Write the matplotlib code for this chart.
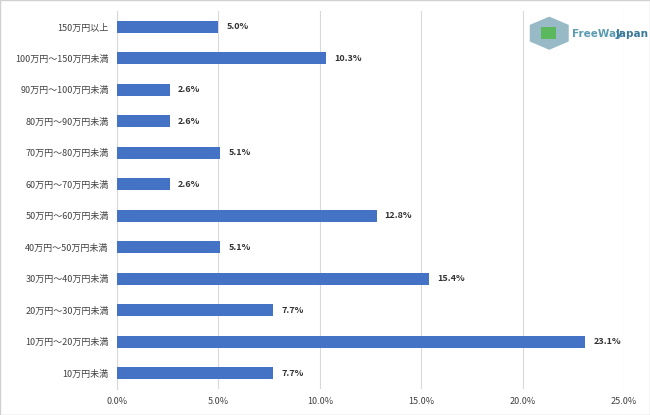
import matplotlib
matplotlib.use("Agg")
import matplotlib.pyplot as plt
from matplotlib.patches import Rectangle, Polygon

categories = ["10万円未満","10万円～20万円未満","20万円～30万円未満","30万円～40万円未満",
              "40万円～50万円未満","50万円～60万円未満","60万円～70万円未満","70万円～80万円未満",
              "80万円～90万円未満","90万円～100万円未満","100万円～150万円未満","150万円以上"]
values = [7.7,23.1,7.7,15.4,5.1,12.8,2.6,5.1,2.6,2.6,10.3,5.0]
xticks = [0,5,10,15,20,25]

plt.rcParams["font.family"] = ["Noto Sans CJK JP"]
fig = plt.figure(figsize=(6.5,4.15), dpi=100)
fig.patches.append(Rectangle((0,0),1,1,transform=fig.transFigure,fill=False,edgecolor="#d0d0d0",lw=1))
ax = fig.add_axes([0.18,0.063,0.78,0.91])
y = range(len(categories))
ax.barh(y, values, height=0.38, color="#4472c4", zorder=3)
for i,v in zip(y,values):
    ax.text(v+0.4, i, f"{v:.1f}%", va="center", ha="left", fontsize=6.5, fontweight="bold", color="#333333")
ax.set_yticks(list(y))
ax.set_yticklabels(categories, fontsize=6.5, color="#404040")
ax.set_xticks(xticks)
ax.set_xticklabels([f"{t:.1f}%" for t in xticks], fontsize=6.5, color="#404040")
ax.set_xlim(0,25)
ax.set_ylim(-0.5,11.5)
ax.grid(axis="x", color="#d9d9d9", lw=0.8, zorder=0)
for s in ax.spines.values(): s.set_visible(False)
ax.spines["left"].set_visible(True); ax.spines["left"].set_color("#d9d9d9")
ax.tick_params(length=0, pad=6)
# logo
fig.patches.append(Polygon([[0.815,0.94],[0.845,0.96],[0.875,0.94],[0.875,0.90],[0.845,0.88],[0.815,0.90]],
                           closed=True, transform=fig.transFigure, facecolor="#7fa8b8", edgecolor="none", alpha=0.8))
fig.patches.append(Rectangle((0.833,0.905),0.022,0.03,transform=fig.transFigure,facecolor="#5cb85c",edgecolor="none"))
fig.text(0.88,0.918,"FreeWay", fontsize=7.5, color="#5a9bb0", fontweight="bold", va="center", family="DejaVu Sans")
fig.text(0.947,0.918,"Japan", fontsize=7.5, color="#3a7a9a", fontweight="bold", va="center", family="DejaVu Sans")
fig.savefig("out.png", dpi=100)
